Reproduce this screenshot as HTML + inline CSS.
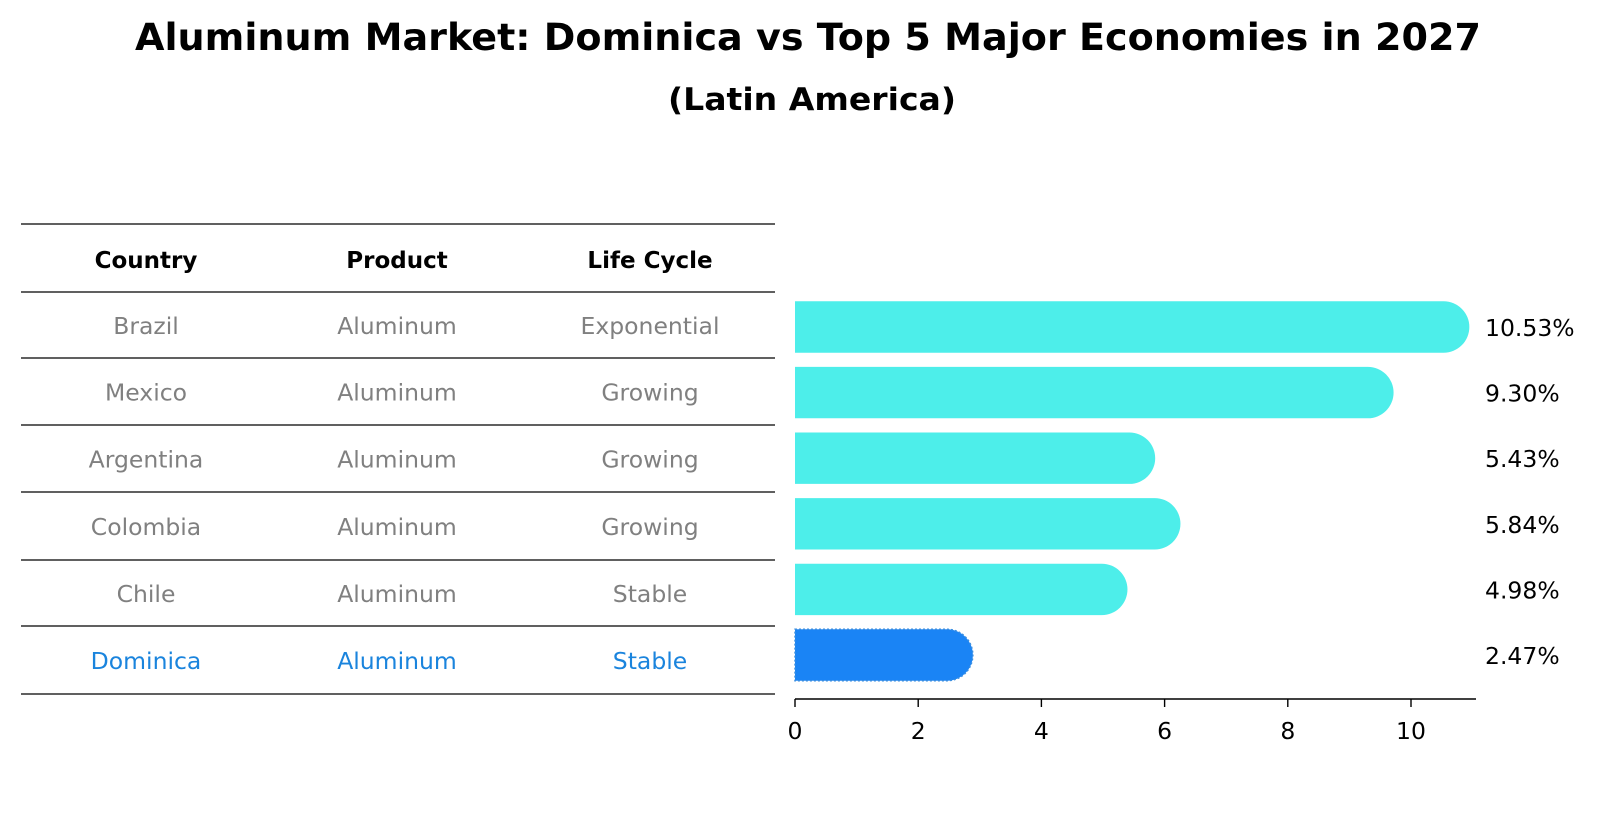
<!DOCTYPE html>
<html><head><meta charset="utf-8"><style>
html,body{margin:0;padding:0;background:#fff;}
svg{display:block;font-family:"DejaVu Sans","Liberation Sans",sans-serif;}
</style></head><body>
<svg id="chart" width="1604" height="823" viewBox="0 0 1604 823">
<text x="808" y="50" text-anchor="middle" font-size="37" font-weight="bold" textLength="1346" lengthAdjust="spacingAndGlyphs">Aluminum Market: Dominica vs Top 5 Major Economies in 2027</text>
<text x="812" y="110" text-anchor="middle" font-size="31" font-weight="bold" textLength="288" lengthAdjust="spacingAndGlyphs">(Latin America)</text>
<g id="table"></g>
<g id="bars"></g>
</svg>
<script>
const countries=["Brazil","Mexico","Argentina","Colombia","Chile","Dominica"];
const products=["Aluminum","Aluminum","Aluminum","Aluminum","Aluminum","Aluminum"];
const cycles=["Exponential","Growing","Growing","Growing","Stable","Stable"];
const values=[10.53,9.30,5.43,5.84,4.98,2.47];
const ticks=[0,2,4,6,8,10];
const NS="http://www.w3.org/2000/svg";
function mk(tag,attrs,parent,text){const e=document.createElementNS(NS,tag);for(const k in attrs)e.setAttribute(k,attrs[k]);if(text!==undefined)e.textContent=text;parent.appendChild(e);return e;}
const x0=795,pxPer=61.6;
const xs=v=>x0+v*pxPer;
const rowY=i=>327+i*65.6;
const tbl=document.getElementById('table');
const lines=[224,292,358,425,492,560,626,694];
lines.forEach(y=>{const l=mk('line',{x1:21,x2:775,y1:y,y2:y,stroke:'#000','stroke-width':1.2},tbl);

});
const cols=[146,397,650];
["Country","Product","Life Cycle"].forEach((h,j)=>{const t=mk('text',{x:cols[j],y:(lines[0]+lines[1])/2+10,'text-anchor':'middle','font-size':23,'font-weight':'bold'},tbl,h);

});
countries.forEach((c,i)=>{const y=(lines[i+1]+lines[i+2])/2+9;const col=c==="Dominica"?'#1a84dd':'#808080';
[c,products[i],cycles[i]].forEach((s,j)=>{const t=mk('text',{x:cols[j],y:y,'text-anchor':'middle','font-size':23.5,fill:col},tbl,s);

});});
const bars=document.getElementById('bars');
const h=51.4,r=25.7;
values.forEach((v,i)=>{const cy=rowY(i);const xe=xs(v);const dom=countries[i]==="Dominica";const col=dom?'#1a84f5':'#4deeea';
const d=`M${x0},${cy-h/2} L${xe},${cy-h/2} A${r},${r} 0 0 1 ${xe},${cy+h/2} L${x0},${cy+h/2} Z`;
const p=mk('path',{d:d,fill:col},bars);
if(dom){p.setAttribute('stroke','#3a8ee0');p.setAttribute('stroke-dasharray','2,2');p.setAttribute('stroke-width','1.5');}


const t=mk('text',{x:1485,y:cy+9,'font-size':23.5},bars,v.toFixed(2)+'%');

});
const ax=mk('line',{x1:x0,x2:1476,y1:699,y2:699,stroke:'#000','stroke-width':1.4},bars);


ticks.forEach(tv=>{const x=xs(tv);const tl=mk('line',{x1:x,x2:x,y1:699,y2:707,stroke:'#000','stroke-width':1.4},bars);


const t=mk('text',{x:x,y:739,'text-anchor':'middle','font-size':23.5},bars,String(tv));

});
</script>
</body></html>
